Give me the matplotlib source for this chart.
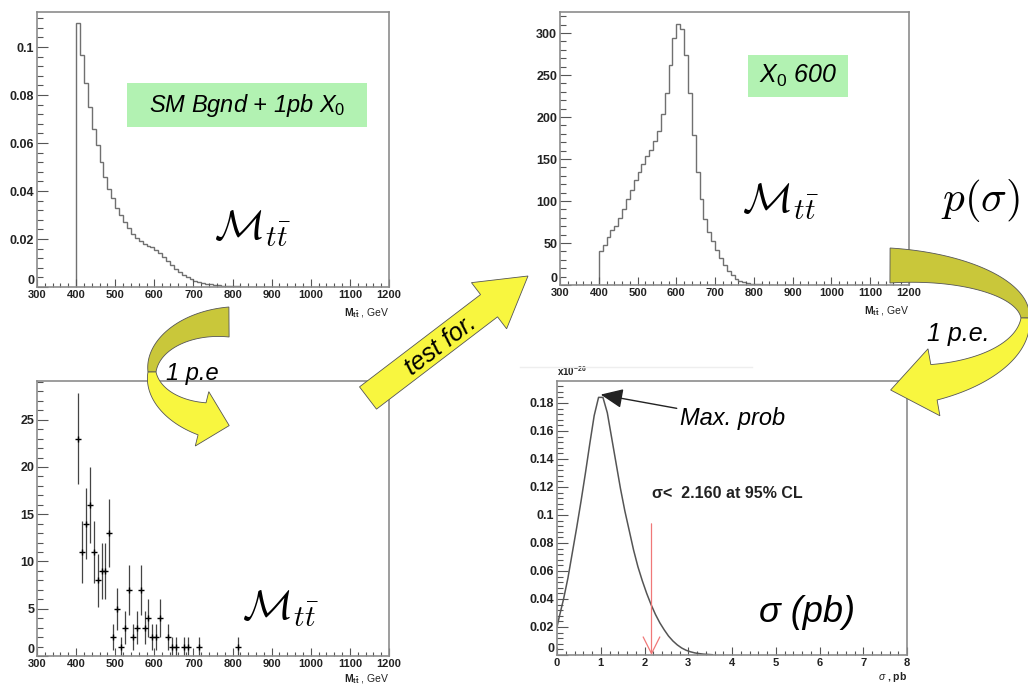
import numpy as np
import matplotlib.pyplot as plt
from matplotlib.patches import Polygon, Rectangle, FancyArrow
from matplotlib.ticker import MultipleLocator, FormatStrFormatter

plt.rcParams['font.family'] = ['Liberation Sans', 'DejaVu Sans']
plt.rcParams['mathtext.fontset'] = 'custom'
plt.rcParams['mathtext.rm'] = 'Liberation Sans'
plt.rcParams['mathtext.it'] = 'Liberation Sans:italic'
plt.rcParams['mathtext.bf'] = 'Liberation Sans:bold'

#%% data
# SM background + 1 pb X0, normalised, 10 GeV bins from 400 GeV
bg_edges = np.arange(400, 901, 10)
bg_sig = [0.110, 0.0965, 0.085, 0.075, 0.066, 0.059, 0.052, 0.046, 0.041, 0.037,
          0.033, 0.030, 0.027, 0.0245, 0.022, 0.0205, 0.019, 0.018, 0.0172, 0.0165,
          0.0155, 0.014, 0.0125, 0.011, 0.0092, 0.0077, 0.0063, 0.0051, 0.0041, 0.0033,
          0.0026, 0.0021, 0.0017, 0.0014, 0.0011, 0.0009, 0.0007, 0.0006, 0.0005, 0.0004,
          0.0003, 0.0003, 0.0002, 0.0002, 0.00015, 0.00012, 0.0001, 0.0001, 0.00008, 0.00005]

# X0 (600 GeV) template, 10 GeV bins from 400 GeV
x0_edges = np.arange(400, 851, 10)
x0_sig = [41, 48, 57, 66, 70, 80, 90, 102, 113, 125,
          135, 144, 153, 161, 171, 183, 203, 229, 262, 294,
          311, 305, 274, 228, 178, 135, 102, 79, 63, 52,
          42, 32, 24, 17, 12, 7, 4.4, 3, 2, 1.5,
          1, 0.6, 0.4, 0.3, 0.2]

# one pseudo-experiment
pe_mtt = [405, 415, 425, 435, 445, 455, 465, 475, 485, 495, 505, 515, 525, 535, 545,
          555, 565, 575, 585, 595, 605, 615, 635, 645, 655, 675, 685, 715, 815]
pe_counts = [23, 11, 14, 16, 11, 8, 9, 9, 13, 2, 5, 1, 3, 7, 2,
             3, 7, 3, 4, 2, 2, 4, 2, 1, 1, 1, 1, 1, 1]

# posterior p(sigma), units of 1e-26
sig_pb = [0.0, 0.05, 0.15, 0.25, 0.35, 0.45, 0.55, 0.65, 0.75, 0.85, 0.95,
          1.05, 1.15, 1.25, 1.35, 1.45, 1.55, 1.65, 1.75, 1.85, 1.95,
          2.05, 2.15, 2.25, 2.35, 2.45, 2.55, 2.65, 2.75, 2.85, 2.95,
          3.05, 3.15, 3.25, 3.35, 3.45, 3.55]
p_sigma = [0.020, 0.027, 0.040, 0.055, 0.073, 0.091, 0.110, 0.130, 0.151, 0.171, 0.184,
           0.184, 0.173, 0.155, 0.137, 0.119, 0.103, 0.089, 0.075, 0.063, 0.053,
           0.044, 0.036, 0.029, 0.023, 0.018, 0.0135, 0.010, 0.0072, 0.005, 0.0034,
           0.0023, 0.0015, 0.001, 0.0006, 0.0004, 0.0002]
sig_peak = 1.0
sig_limit = 2.160

#%% figure
W, H = 1028, 685
fig = plt.figure(figsize=(W/100, H/100), dpi=100)

def pix_axes(l, t, r, b):
    return fig.add_axes([l/W, 1 - b/H, (r - l)/W, (b - t)/H])

def style(ax, xmaj, xmin, ymaj, ymin):
    ax.xaxis.set_major_locator(MultipleLocator(xmaj))
    ax.xaxis.set_minor_locator(MultipleLocator(xmin))
    ax.yaxis.set_major_locator(MultipleLocator(ymaj))
    ax.yaxis.set_minor_locator(MultipleLocator(ymin))
    ax.xaxis.set_major_formatter(FormatStrFormatter('%g'))
    ax.yaxis.set_major_formatter(FormatStrFormatter('%g'))
    ax.tick_params(which='both', direction='in', top=False, right=False,
                   colors='#555', labelcolor='#222', width=0.8, pad=2)
    ax.tick_params(axis='x', labelsize=8)
    ax.tick_params(axis='y', labelsize=9)
    ax.tick_params(axis='y', which='major', length=8)
    ax.tick_params(axis='y', which='minor', length=4)
    ax.tick_params(axis='x', which='major', length=6)
    ax.tick_params(axis='x', which='minor', length=3)
    for s in ax.spines.values():
        s.set_color('#8c8c8c')
        s.set_linewidth(1.2)
    plt.setp(ax.get_xticklabels() + ax.get_yticklabels(), fontweight='bold')
    # the "0" of the y axis sits just above the x labels
    for t in ax.yaxis.get_major_ticks():
        if abs(t.get_loc()) < 1e-12:
            t.label1.set_verticalalignment('bottom')

mlabel = r'$\mathbf{M_{t\bar{t}}}$ , GeV'

# top left: background + signal
ax1 = pix_axes(37, 12, 389, 287)
ax1.stairs(bg_sig, bg_edges, color='#707070', lw=1.0)
ax1.set_xlim(300, 1200)
ax1.set_ylim(0, 0.1146)
style(ax1, 100, 20, 0.02, 0.004)
ax1.text(1.0, -0.07, mlabel, transform=ax1.transAxes, ha='right', va='top', fontsize=7.5, color='#222')

# top right: X0 template
ax2 = pix_axes(560, 12, 909, 285)
ax2.stairs(x0_sig, x0_edges, color='#707070', lw=1.0)
ax2.set_xlim(300, 1200)
ax2.set_ylim(0, 325)
style(ax2, 100, 20, 50, 10)
ax2.text(1.0, -0.07, mlabel, transform=ax2.transAxes, ha='right', va='top', fontsize=7.5, color='#222')

# bottom left: pseudo-experiment
ax3 = pix_axes(37, 381, 389, 656)
ax3.errorbar(pe_mtt, pe_counts, yerr=np.sqrt(pe_counts), fmt='+', ms=4, mew=1.0,
             color='black', ecolor='#444', elinewidth=0.9, capsize=0)
ax3.set_xlim(300, 1200)
ax3.set_ylim(0, 29.1)
style(ax3, 100, 20, 5, 1)
ax3.text(1.0, -0.06, mlabel, transform=ax3.transAxes, ha='right', va='top', fontsize=7.5, color='#222')

# bottom right: posterior
ax4 = pix_axes(557, 381, 907, 655)
ax4.plot(sig_pb, p_sigma, color='#555', lw=1.1)
ax4.set_xlim(0, 8)
ax4.set_ylim(0, 0.1957)
style(ax4, 1, 0.2, 0.02, 0.004)
ax4.text(1.0, -0.055, r'$\sigma$ , pb', transform=ax4.transAxes, ha='right', va='top',
         fontsize=7.5, fontweight='bold', color='#222')
ax4.text(0.0, 1.01, r'$\mathbf{x10^{-26}}$', transform=ax4.transAxes, ha='left', va='bottom',
         fontsize=7, color='#222')
ax4.annotate('Max. prob', xy=(sig_peak, 0.186), xytext=(2.8, 0.169),
             fontsize=17, style='italic', ha='left', va='center',
             arrowprops=dict(arrowstyle='-|>,head_length=0.8,head_width=0.35',
                             color='#222', lw=1.0, shrinkA=0, shrinkB=0))
ax4.text(sig_limit, 0.115, u'\u03c3<  %.3f at 95%% CL' % sig_limit, fontsize=11.5,
         fontweight='bold', ha='left', va='center', color='#222')
ax4.annotate('', xy=(sig_limit, 0), xytext=(sig_limit, 0.0937),
             arrowprops=dict(arrowstyle='->,head_length=1.2,head_width=0.6',
                             color='#f07878', lw=0.9, shrinkA=0, shrinkB=0))

#%% overlay in pixel coordinates
ov = fig.add_axes([0, 0, 1, 1], zorder=10)
ov.set_xlim(0, W)
ov.set_ylim(H, 0)
ov.axis('off')
ov.patch.set_alpha(0)

ov.plot([520, 752], [367, 367], color='#eeeeee', lw=1)

back_col = '#c9c73a'
front_col = '#f8f63f'

def ribbon_arrow(cx, cy, rx, ry_up, ry_dn, t0, t1, t2, w0, w1, w2, hw, hl):
    def centre(t):
        ry = ry_up if np.sin(t) > 0 else ry_dn
        return [cx + rx*np.cos(t), cy - ry*np.sin(t)]

    def band(ta, tb, wa, wb):
        ts = np.linspace(ta, tb, 80)
        pts = np.array([centre(t) for t in ts])
        d = np.gradient(pts, axis=0)
        d /= np.linalg.norm(d, axis=1)[:, None]
        nrm = np.column_stack([-d[:, 1], d[:, 0]])
        w = np.linspace(wa, wb, len(ts))[:, None] / 2
        return pts, nrm, w, d

    pts, nrm, w, d = band(t0, t1, w0, w1)
    ov.add_patch(Polygon(np.vstack([pts + nrm*w, (pts - nrm*w)[::-1]]),
                         fc=back_col, ec='#555', lw=0.6))
    pts, nrm, w, d = band(t1, t2, w1, w2)
    end, tang, ne = pts[-1], d[-1], nrm[-1]
    head = [end + ne*w[-1, 0], end + ne*hw, end + tang*hl, end - ne*hw, end - ne*w[-1, 0]]
    ov.add_patch(Polygon(np.vstack([pts + nrm*w, head, (pts - nrm*w)[::-1]]),
                         fc=front_col, ec='#555', lw=0.6))

# 1 p.e (left) and 1 p.e. (right)
ribbon_arrow(229, 372, 77, 50, 50, np.radians(90), np.radians(180), np.radians(249.5),
             30, 8, 33, 28, 28)
ribbon_arrow(890, 318, 135, 52.5, 68, np.radians(90), np.radians(0), np.radians(-71),
             35, 8, 36, 34, 44)

# test for.
ov.add_patch(FancyArrow(368, 398, 160, -122, width=28, head_width=58, head_length=49,
                        length_includes_head=True, fc=front_col, ec='#555', lw=0.6))
ov.text(441, 345, 'test for.', rotation=37.3, rotation_mode='anchor', ha='center', va='center',
        fontsize=18, style='italic')

ov.text(192, 373, '1 p.e', fontsize=17, style='italic', ha='center', va='center')
ov.text(958, 334, '1 p.e.', fontsize=18, style='italic', ha='center', va='center')

# label boxes
ov.add_patch(Rectangle((127, 83), 240, 44, fc='#b2f2b2', ec='none'))
ov.text(247, 105, r'SM Bgnd + 1pb $\mathit{X_0}$', fontsize=17, style='italic', ha='center', va='center')
ov.add_patch(Rectangle((748, 55), 100, 42, fc='#b2f2b2', ec='none'))
ov.text(798, 76, r'$\mathit{X_0}$ 600', fontsize=18, style='italic', ha='center', va='center')

mtt = r'$\mathcal{M}_{t\bar{t}}$'
ov.text(252, 229, mtt, fontsize=30, math_fontfamily='cm', ha='center', va='center')
ov.text(780, 202, mtt, fontsize=30, math_fontfamily='cm', ha='center', va='center')
ov.text(280, 609, mtt, fontsize=30, math_fontfamily='cm', ha='center', va='center')
ov.text(980, 200, r'$p(\sigma)$', fontsize=31, math_fontfamily='cm', ha='center', va='center')
ov.text(807, 612, u'\u03c3 (pb)', fontsize=26, style='italic', ha='center', va='center')

plt.savefig('out.png', dpi=100)
